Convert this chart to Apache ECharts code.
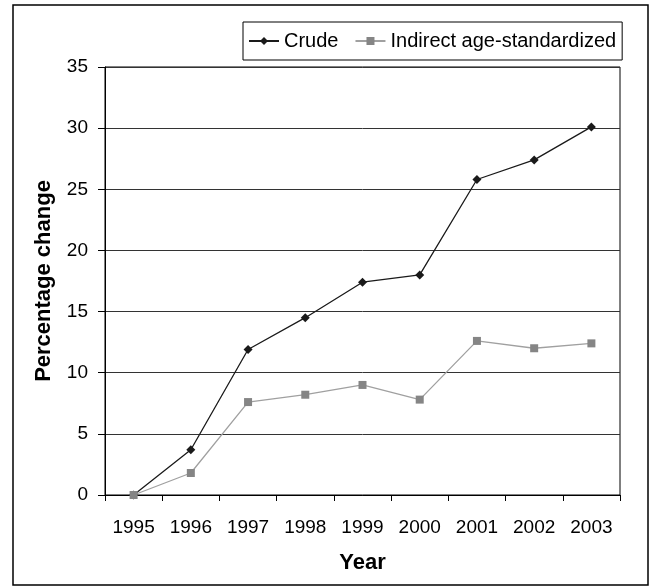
<!DOCTYPE html>
<html>
<head>
<meta charset="utf-8">
<script src="https://cdn.jsdelivr.net/npm/echarts@6/dist/echarts.min.js"></script>
<style>
  html, body { margin: 0; padding: 0; background: #fff; }
  #chart { width: 657px; height: 587px; }
</style>
</head>
<body>
<div id="chart"></div>
<script>
  // data
  var years = ['1995', '1996', '1997', '1998', '1999', '2000', '2001', '2002', '2003'];
  var crude = [0, 3.7, 11.9, 14.5, 17.4, 18.0, 25.8, 27.4, 30.1];
  var indirect = [0, 1.8, 7.6, 8.2, 9.0, 7.8, 12.6, 12.0, 12.4];
  var yTicks = [0, 5, 10, 15, 20, 25, 30, 35];

  var font = "'Liberation Sans', Arial, sans-serif";

  var chart = echarts.init(document.getElementById('chart'));
  chart.setOption({
    animation: false,
    backgroundColor: '#fff',
    textStyle: { fontFamily: font },
    // outer frame of the figure
    graphic: [{
      type: 'rect',
      shape: { x: 13, y: 5, width: 635, height: 580 },
      style: { fill: 'none', stroke: '#000', lineWidth: 1.5 },
      silent: true
    }],
    grid: {
      left: 105,
      right: 37,
      top: 67,
      bottom: 92,
      show: true,
      borderColor: '#000',
      borderWidth: 1
    },
    legend: {
      left: 243,
      top: 22,
      padding: [9, 6, 9, 5],
      itemWidth: 30,
      itemHeight: 10,
      itemGap: 16,
      borderColor: '#000',
      borderWidth: 1,
      backgroundColor: '#fff',
      textStyle: { fontSize: 20, color: '#000', fontFamily: font },
      data: ['Crude', 'Indirect age-standardized']
    },
    xAxis: {
      type: 'category',
      data: years,
      name: 'Year',
      nameLocation: 'middle',
      nameGap: 57,
      nameTextStyle: { fontSize: 22, fontWeight: 'bold', color: '#000' },
      axisLine: { lineStyle: { color: '#000', width: 1 } },
      axisTick: { show: true, length: 6, lineStyle: { color: '#000' } },
      axisLabel: { fontSize: 19, color: '#000', margin: 23 },
      splitLine: { show: false }
    },
    yAxis: {
      type: 'value',
      min: 0,
      max: yTicks[yTicks.length - 1],
      interval: 5,
      name: 'Percentage change',
      nameLocation: 'middle',
      nameGap: 50,
      nameTextStyle: { fontSize: 22, fontWeight: 'bold', color: '#000' },
      axisLine: { show: true, lineStyle: { color: '#000', width: 1 } },
      axisTick: { show: true, length: 7, lineStyle: { color: '#000' } },
      axisLabel: { fontSize: 19, color: '#000', margin: 17 },
      splitLine: { show: true, lineStyle: { color: '#333', width: 1 } }
    },
    series: [
      {
        name: 'Crude',
        type: 'line',
        data: crude,
        symbol: 'diamond',
        symbolSize: 9,
        itemStyle: { color: '#1a1a1a' },
        lineStyle: { color: '#1a1a1a', width: 1.3 }
      },
      {
        name: 'Indirect age-standardized',
        type: 'line',
        data: indirect,
        symbol: 'rect',
        symbolSize: 8,
        itemStyle: { color: '#858585' },
        lineStyle: { color: '#a0a0a0', width: 1.3 }
      }
    ]
  });
</script>
</body>
</html>
